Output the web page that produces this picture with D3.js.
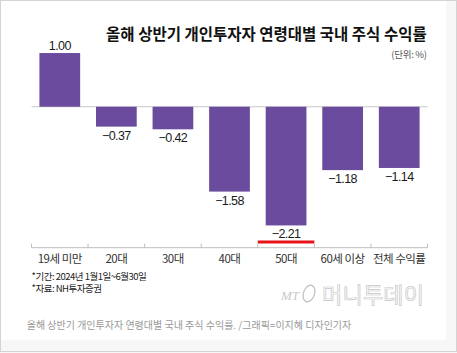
<!DOCTYPE html>
<html>
<head>
<meta charset="utf-8">
<script src="https://cdn.jsdelivr.net/npm/d3@7"></script>
<style>
  body { margin: 0; background: #fff; }
  svg { display: block; }
</style>
</head>
<body>
<div id="chart"></div>
<script>
// chart values
const categories = ["19세 미만", "20대", "30대", "40대", "50대", "60세 이상", "전체 수익률"];
const returns = [1.00, -0.37, -0.42, -1.58, -2.21, -1.18, -1.14];
const valueLabels = ["1.00", "\u22120.37", "\u22120.42", "\u22121.58", "\u22122.21", "\u22121.18", "\u22121.14"];
const highlight = "50대";

const titleText = "올해 상반기 개인투자자 연령대별 국내 주식 수익률";
const unitText = "(단위: %)";
const notes = ["*기간: 2024년 1월1일~6월30일", "*자료: NH투자증권"];
const captionText = "올해 상반기 개인투자자 연령대별 국내 주식 수익률. /그래픽=이지혜 디자인기자";

const width = 457;
const height = 353;
const kr = "'Noto Sans CJK KR', 'Noto Sans', sans-serif";

const svg = d3.select("#chart")
    .append("svg")
    .attr("width", width)
    .attr("height", height);

//page background and frame
svg.append("rect")
    .attr("width", width).attr("height", height)
    .attr("fill", "#f7f7f7");
svg.append("rect")
    .attr("x", 1).attr("y", 1)
    .attr("width", 445).attr("height", 339)
    .attr("fill", "#fff");
svg.append("rect")
    .attr("x", 0.5).attr("y", 0.5)
    .attr("width", width - 1).attr("height", height - 2)
    .attr("fill", "none")
    .attr("stroke", "#d4d4d4");

//scales
const xScale = d3.scaleBand()
    .domain(categories)
    .range([31.5, 427.5])
    .padding(0);

const yScale = d3.scaleLinear()
    .domain([-2.5, 1.2])
    .range([241, 42.3]);

const bw = xScale.bandwidth();
const barW = bw * 0.72;
const barOff = (bw - barW) / 2;

const data = categories.map(function(c, i) {
    return { cat: c, value: returns[i], label: valueLabels[i] };
});

//zero line
svg.append("line")
    .attr("x1", 31.5).attr("x2", 427.5)
    .attr("y1", yScale(0)).attr("y2", yScale(0))
    .attr("stroke", "#c8c8c8")
    .attr("stroke-width", 1);

//bars
svg.selectAll(".bar")
    .data(data)
    .enter()
    .append("rect")
    .attr("class", "bar")
    .attr("x", function(d) { return xScale(d.cat) + barOff; })
    .attr("y", function(d) { return yScale(Math.max(0, d.value)); })
    .attr("width", barW)
    .attr("height", function(d) { return Math.abs(yScale(d.value) - yScale(0)); })
    .attr("fill", "#6a4b9e");

//value labels
svg.selectAll(".val")
    .data(data)
    .enter()
    .append("text")
    .attr("class", "val")
    .attr("x", function(d) { return xScale(d.cat) + bw / 2; })
    .attr("y", function(d) { return d.value >= 0 ? yScale(d.value) - 3 : yScale(d.value) + 13; })
    .attr("text-anchor", "middle")
    .attr("font-family", "'Liberation Sans', Arial, sans-serif")
    .attr("font-size", "12.5px")
    .attr("letter-spacing", "-0.6")
    .attr("fill", "#1a1a1a")
    .text(function(d) { return d.label; });

//highlight underline
svg.append("rect")
    .attr("x", xScale(highlight))
    .attr("y", 240.5)
    .attr("width", bw)
    .attr("height", 3)
    .attr("fill", "#e8141c");

//bottom axis
const axisY = 247.7;
svg.append("line")
    .attr("x1", 31.5).attr("x2", 427.5)
    .attr("y1", axisY).attr("y2", axisY)
    .attr("stroke", "#bdbdbd");

const tickPos = categories.map(function(c) { return xScale(c); }).concat([xScale.range()[1]]);
svg.selectAll(".tick")
    .data(tickPos)
    .enter()
    .append("line")
    .attr("x1", function(d) { return d; })
    .attr("x2", function(d) { return d; })
    .attr("y1", axisY - 4)
    .attr("y2", axisY)
    .attr("stroke", "#bdbdbd");

svg.selectAll(".cat")
    .data(categories)
    .enter()
    .append("text")
    .attr("x", function(d) { return xScale(d) + bw / 2; })
    .attr("y", 262.5)
    .attr("text-anchor", "middle")
    .attr("font-family", kr)
    .attr("font-size", "11.5px")
    .attr("letter-spacing", "-0.5")
    .attr("fill", "#333")
    .text(function(d) { return d; });

//title
svg.append("text")
    .attr("x", 426.7)
    .attr("y", 40)
    .attr("text-anchor", "end")
    .attr("font-family", kr)
    .attr("font-weight", "bold")
    .attr("font-size", "15.5px")
    .attr("letter-spacing", "0")
    .attr("fill", "#111")
    .text(titleText);

svg.append("text")
    .attr("x", 426.7)
    .attr("y", 58)
    .attr("text-anchor", "end")
    .attr("font-family", kr)
    .attr("font-size", "9.5px")
    .attr("letter-spacing", "-0.3")
    .attr("fill", "#555")
    .text(unitText);

//notes
svg.selectAll(".note")
    .data(notes)
    .enter()
    .append("text")
    .attr("x", 31.5)
    .attr("y", function(d, i) { return 279.5 + i * 12.5; })
    .attr("font-family", kr)
    .attr("font-size", "9.5px")
    .attr("letter-spacing", "-0.5")
    .attr("fill", "#222")
    .text(function(d) { return d; });

//watermark
const wm = svg.append("g").attr("fill", "none");
wm.append("text")
    .attr("x", 281)
    .attr("y", 300)
    .attr("font-family", "'Liberation Serif', serif")
    .attr("font-style", "italic")
    .attr("font-size", "13px")
    .attr("fill", "#c8c8c8")
    .text("MT");
wm.append("ellipse")
    .attr("cx", 309).attr("cy", 293.5)
    .attr("rx", 5.5).attr("ry", 8.5)
    .attr("transform", "rotate(20,309,293.5)")
    .attr("stroke", "#c4c4c4")
    .attr("stroke-width", 1.4);
wm.append("text")
    .attr("x", 322)
    .attr("y", 303)
    .attr("font-family", kr)
    .attr("font-size", "22px")
    .attr("letter-spacing", "0.2")
    .attr("fill", "#fff")
    .attr("stroke", "#c6c6c6")
    .attr("stroke-width", 0.7)
    .text("머니투데이");

//caption
svg.append("text")
    .attr("x", 26.7)
    .attr("y", 328.5)
    .attr("font-family", kr)
    .attr("font-size", "10px")
    .attr("fill", "#999")
    .text(captionText);
</script>
</body>
</html>
